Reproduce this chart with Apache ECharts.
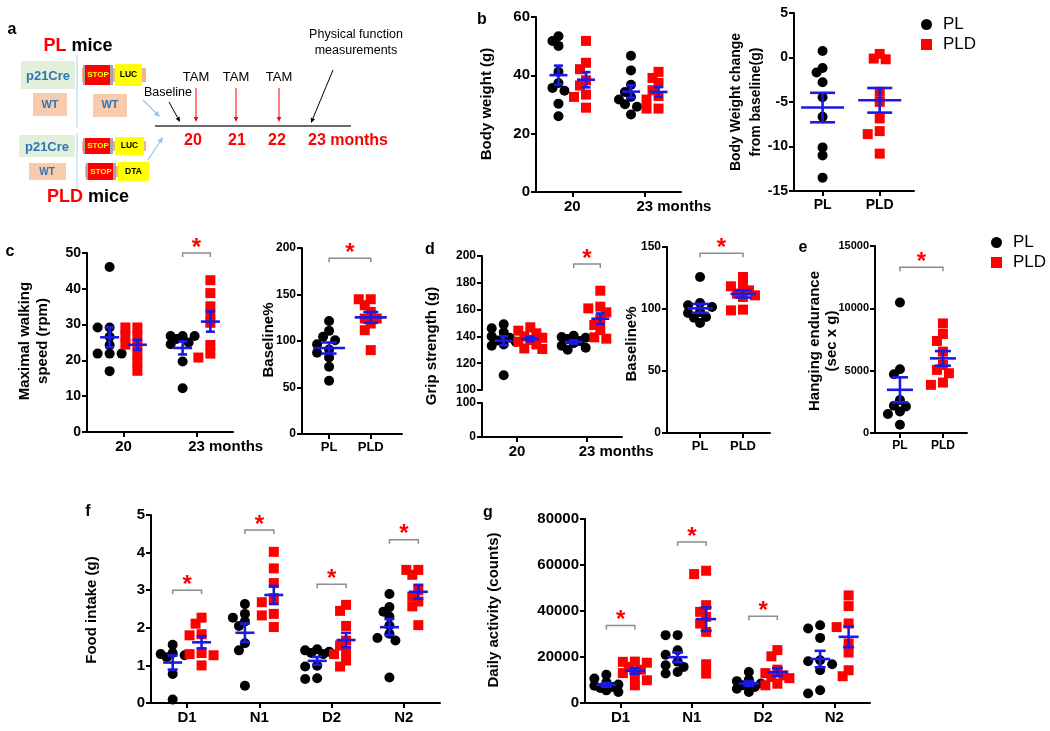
<!DOCTYPE html>
<html><head><meta charset="utf-8">
<script src="https://cdn.jsdelivr.net/npm/echarts@6/dist/echarts.min.js"></script>
<style>html,body{margin:0;padding:0;background:#fff}#chart{width:1050px;height:731px}</style>
</head><body><div id="chart"></div>
<script>
// ================= DATA =================
const seriesNames = ['PL', 'PLD'];
// b: body weight
const bwGroups = ['20', '23 months'];
const bwYTicks = [0, 20, 40, 60];
const bwPL  = [[53.4, 51.8, 50.1, 41.2, 37.4, 35.7, 34.7, 30.3, 26.0], [46.7, 41.7, 36.8, 34.3, 32.6, 31.7, 30.1, 29.2, 26.6]];
const bwPLD = [[51.8, 44.3, 42.1, 38.3, 36.5, 33.4, 32.6, 28.9], [41.2, 39.1, 37.4, 34.9, 32.9, 31.7, 28.6, 28.6]];
// b: body weight change
const bwcGroups = ['PL', 'PLD'];
const bwcYTicks = [-15, -10, -5, 0, 5];
const bwcPL  = [0.74, -1.17, -1.69, -2.78, -4.46, -6.66, -10.1, -11.0, -13.5];
const bwcPLD = [0.40, -0.20, -0.12, -3.86, -4.98, -6.85, -8.27, -8.61, -10.8];
// c: maximal walking speed
const walkGroups = ['20', '23 months'];
const walkYTicks = [0, 10, 20, 30, 40, 50];
const walkPL  = [[46.1, 29.2, 29.2, 26.6, 24.3, 21.9, 21.9, 21.9, 17.0], [26.8, 26.8, 26.8, 26.0, 25.0, 24.5, 19.7, 12.2]];
const walkPLD = [[29.2, 29.2, 26.8, 26.8, 24.4, 24.4, 21.9, 19.5, 17.1], [42.4, 38.8, 35.1, 32.9, 30.5, 24.3, 21.9, 20.8]];
const walkSig = [{ group: 1, y: 50 }];
// c: walking baseline %
const walkBaseGroups = ['PL', 'PLD'];
const walkBaseYTicks = [0, 50, 100, 150, 200];
const walkBasePL  = [121.6, 104.5, 110.9, 100.9, 96.6, 87.3, 90.9, 82.3, 72.3, 57.2];
const walkBasePLD = [144.9, 144.9, 138.5, 131.3, 124.2, 124.2, 118.8, 111.6, 90.2];
const walkBaseSig = [{ y: 189 }];
// d: grip strength (broken axis)
const gripGroups = ['20', '23 months'];
const gripYTicksUpper = [100, 120, 140, 160, 180, 200];
const gripYTicksLower = [0, 100];
const gripPL  = [[149, 146, 143, 140, 139, 137, 136, 134, 133, 111], [140.5, 139.5, 139, 138, 136.5, 135, 133, 131.5, 130]];
const gripPLD = [[146.8, 144.3, 142.3, 140, 139, 137.3, 136, 134, 131, 130.6], [174.1, 162.2, 160.9, 158, 152.7, 148.5, 144.8, 139.3, 138.3]];
const gripSig = [{ group: 1, y: 194 }];
// d: grip baseline %
const gripBaseGroups = ['PL', 'PLD'];
const gripBaseYTicks = [0, 50, 100, 150];
const gripBasePL  = [125.8, 104.8, 103, 101.6, 97.6, 96.8, 93.5, 93.0, 88.7];
const gripBasePLD = [125.8, 119, 118.3, 115, 112.4, 111, 109.7, 99.5, 98.9];
const gripBaseSig = [{ y: 145 }];
// e: hanging endurance
const hangGroups = ['PL', 'PLD'];
const hangYTicks = [0, 5000, 10000, 15000];
const hangPL  = [10470, 5115, 4715, 2650, 2185, 2131, 1732, 1519, 666];
const hangPLD = [8791, 7939, 7380, 6527, 5461, 5062, 4795, 4049, 3863];
const hangSig = [{ y: 13300 }];
// f: food intake
const foodGroups = ['D1', 'N1', 'D2', 'N2'];
const foodYTicks = [0, 1, 2, 3, 4, 5];
const foodPL  = [[1.55, 1.33, 1.30, 1.27, 1.22, 0.77, 0.09], [2.63, 2.37, 2.27, 2.17, 2.05, 1.59, 1.40, 0.46], [1.43, 1.40, 1.36, 1.33, 1.30, 0.99, 0.97, 0.66, 0.64], [2.90, 2.55, 2.43, 2.30, 2.06, 1.84, 1.73, 1.66, 0.68]];
const foodPLD = [[2.27, 2.11, 1.83, 1.80, 1.33, 1.30, 1.27, 1.0], [4.02, 3.58, 3.19, 2.79, 2.68, 2.37, 2.33, 2.02], [2.61, 2.45, 2.05, 1.66, 1.53, 1.37, 1.30, 1.13, 0.97], [3.54, 3.54, 3.41, 3.0, 2.83, 2.70, 2.57, 2.07]];
const foodSig = [{ group: 0, y: 3.0 }, { group: 1, y: 4.6 }, { group: 2, y: 3.16 }, { group: 3, y: 4.34 }];
// g: daily activity
const actGroups = ['D1', 'N1', 'D2', 'N2'];
const actYTicks = [0, 20000, 40000, 60000, 80000];
const actPL  = [[12300, 10600, 9000, 8000, 7500, 7000, 6500, 5500, 4800], [29500, 29500, 22900, 21000, 18000, 16400, 15700, 13500, 12800], [13500, 10200, 9500, 8500, 7700, 7000, 6200, 4800], [33840, 32400, 28300, 18600, 18150, 16850, 14240, 5530, 4100]];
const actPLD = [[18000, 17900, 17500, 15700, 14500, 13000, 11600, 9900, 7700], [57500, 56050, 42540, 39640, 37460, 34550, 30930, 16840, 12780], [23000, 20300, 14500, 13000, 12000, 11300, 10800, 8400, 7700], [46770, 42110, 34580, 33000, 25870, 21950, 14240, 11630]];
const actSig = [{ group: 0, y: 33700 }, { group: 1, y: 70000 }, { group: 2, y: 37700 }];

// ================= STYLE / LAYOUT =================
const FONT = '"Liberation Sans", Arial, Helvetica, sans-serif';
const BLACK = '#000000', RED = '#ff0000', BLUE = '#1a1ae6', GRAY = '#8c8c8c';

const panels = [
  { grid: { left: 536, top: 17, width: 145, height: 175 }, xMin: -0.5, xMax: 1.5, groups: bwGroups, pl: bwPL, pld: bwPLD, split: true, off: 0.19, yTicks: bwYTicks, xFont: 15, yFont: 15, meanW: 18, capW: 9 },
  { grid: { left: 794, top: 13, width: 120, height: 178 }, xMin: -0.5, xMax: 1.6, groups: bwcGroups, pl: [bwcPL], pld: [bwcPLD], split: false, yTicks: bwcYTicks, xFont: 14, yFont: 14, meanW: 43, capW: 25 },
  { grid: { left: 87, top: 253, width: 146, height: 179 }, xMin: -0.5, xMax: 1.5, groups: walkGroups, pl: walkPL, pld: walkPLD, split: true, off: 0.19, yTicks: walkYTicks, xFont: 15, yFont: 14, meanW: 19, capW: 9, sig: walkSig },
  { grid: { left: 302, top: 248, width: 100, height: 186 }, xMin: -0.65, xMax: 1.75, groups: walkBaseGroups, pl: [walkBasePL], pld: [walkBasePLD], split: false, yTicks: walkBaseYTicks, xFont: 13, yFont: 12, meanW: 32, capW: 15, sig: walkBaseSig },
  { grid: { left: 482, top: 256, width: 140, height: 134 }, xMin: -0.5, xMax: 1.5, groups: gripGroups, pl: gripPL, pld: gripPLD, split: true, off: 0.19, yTicks: gripYTicksUpper, xFont: 15, yFont: 12, meanW: 18, capW: 9, sig: gripSig,
    lower: { grid: { left: 482, top: 403, width: 140, height: 34 }, yTicks: gripYTicksLower } },
  { grid: { left: 667, top: 247, width: 103, height: 186 }, xMin: -0.77, xMax: 1.63, groups: gripBaseGroups, pl: [gripBasePL], pld: [gripBasePLD], split: false, yTicks: gripBaseYTicks, xFont: 13, yFont: 12, meanW: 25, capW: 17, sig: gripBaseSig },
  { grid: { left: 875, top: 246, width: 92, height: 187 }, xMin: -0.58, xMax: 1.56, groups: hangGroups, pl: [hangPL], pld: [hangPLD], split: false, yTicks: hangYTicks, xFont: 12, yFont: 11, meanW: 26, capW: 16, sig: hangSig },
  { grid: { left: 151, top: 515, width: 289, height: 188 }, xMin: -0.5, xMax: 3.5, groups: foodGroups, pl: foodPL, pld: foodPLD, split: true, off: 0.2, yTicks: foodYTicks, xFont: 15, yFont: 15, meanW: 19, capW: 10, sig: foodSig },
  { grid: { left: 585, top: 519, width: 285, height: 184 }, xMin: -0.5, xMax: 3.5, groups: actGroups, pl: actPL, pld: actPLD, split: true, off: 0.2, yTicks: actYTicks, xFont: 15, yFont: 15, meanW: 20, capW: 11, sig: actSig }
];

// ================= HELPERS =================
function stats(a) {
  const n = a.length, m = a.reduce((s, v) => s + v, 0) / n;
  const sd = Math.sqrt(a.reduce((s, v) => s + (v - m) * (v - m), 0) / (n - 1));
  return { mean: m, sem: sd / Math.sqrt(n) };
}
// simple beeswarm layout (pixel based) so that dots do not sit on top of each other
function swarm(values, cx, pxu, pyu, yMin) {
  const step = 6, minD = 7.5;
  const order = values.map((v, i) => i).sort((a, b) => values[b] - values[a]);
  const placed = [], xs = new Array(values.length);
  for (const i of order) {
    const y = (values[i] - yMin) * pyu;
    let best = 0, bestD = -1;
    for (const k of [0, -1, 1, -2, 2]) {
      const xo = k * step;
      let d = Infinity;
      for (const p of placed) d = Math.min(d, Math.hypot(p[0] - xo, p[1] - y));
      if (d >= minD) { best = xo; bestD = d; break; }
      if (d > bestD) { bestD = d; best = xo; }
    }
    placed.push([best, y]);
    xs[i] = cx + best / pxu;
  }
  return xs;
}

const grids = [], xAxes = [], yAxes = [], series = [];

// base x axis: line, ticks and the single-word labels
function makeX(gi, p, show) {
  const idx = p.groups.map((_, i) => i);
  const plain = idx.filter(i => p.groups[i].indexOf(' ') < 0);
  return {
    type: 'value', gridIndex: gi, min: p.xMin, max: p.xMax, show: show, position: 'bottom',
    axisLine: { show: true, onZero: false, lineStyle: { color: BLACK, width: 2 } },
    axisTick: { show: true, customValues: idx, length: 5, lineStyle: { color: BLACK, width: 2 } },
    axisLabel: { show: true, customValues: plain, showMinLabel: true, showMaxLabel: true,
      formatter: v => p.groups[Math.round(v)] || '', color: BLACK, fontSize: p.xFont, fontWeight: 'bold', fontFamily: FONT, margin: 7 },
    splitLine: { show: false }
  };
}
// companion x axis holding only multi-word labels ("23 months"), with the number centred on its tick
function makeXWords(gi, p) {
  const words = p.groups.map((_, i) => i).filter(i => p.groups[i].indexOf(' ') > 0);
  if (!words.length) return null;
  return {
    type: 'value', gridIndex: gi, min: p.xMin, max: p.xMax, position: 'bottom', offset: 0,
    axisLine: { show: false, onZero: false }, axisTick: { show: false },
    axisLabel: { show: true, customValues: words, showMinLabel: true, showMaxLabel: true,
      formatter: function (v) { const s = p.groups[Math.round(v)] || ''; const sp = s.indexOf(' '); return '{h|' + s.slice(sp) + '}' + s; },
      color: BLACK, fontSize: p.xFont, fontWeight: 'bold', fontFamily: FONT, margin: 7,
      rich: { h: { color: 'rgba(0,0,0,0)', fontSize: p.xFont, fontWeight: 'bold', fontFamily: FONT } } },
    splitLine: { show: false }
  };
}
function makeY(gi, ticks, size) {
  return {
    type: 'value', gridIndex: gi, min: ticks[0], max: ticks[ticks.length - 1], interval: ticks[1] - ticks[0],
    axisLine: { show: true, onZero: false, lineStyle: { color: BLACK, width: 2 } },
    axisTick: { show: true, length: 5, lineStyle: { color: BLACK, width: 2 } },
    axisLabel: { color: BLACK, fontSize: size, fontWeight: 'bold', fontFamily: FONT, margin: 6, showMinLabel: true, showMaxLabel: true, formatter: v => String(v) },
    splitLine: { show: false }
  };
}

function buildPanel(p) {
  const gi = grids.length;
  grids.push(Object.assign({}, p.grid));
  const xi = xAxes.length, yi = yAxes.length;
  xAxes.push(makeX(gi, p, !p.lower));
  yAxes.push(makeY(gi, p.yTicks, p.yFont));
  if (p.lower) {
    const li = grids.length;
    grids.push(Object.assign({}, p.lower.grid));
    xAxes.push(makeX(li, p, true));
    yAxes.push(makeY(li, p.lower.yTicks, p.yFont));
    const w = makeXWords(li, p); if (w) xAxes.push(w);
  } else {
    const w = makeXWords(gi, p); if (w) xAxes.push(w);
  }
  const yMin = p.yTicks[0], yMax = p.yTicks[p.yTicks.length - 1];
  const pxu = p.grid.width / (p.xMax - p.xMin), pyu = p.grid.height / (yMax - yMin);
  const dataPL = [], dataPLD = [], bars = [];
  const sets = [[p.pl, dataPL, -1], [p.pld, dataPLD, 1]];
  sets.forEach(([arr, out, sgn], si) => {
    arr.forEach((vals, g) => {
      const cx = p.split ? g + sgn * p.off : si;
      const xs = swarm(vals, cx, pxu, pyu, yMin);
      vals.forEach((v, i) => out.push([xs[i], v]));
      const st = stats(vals);
      bars.push([cx, st.mean, st.sem]);
    });
  });
  series.push({ name: 'PL', type: 'scatter', xAxisIndex: xi, yAxisIndex: yi, symbol: 'circle', symbolSize: 10, itemStyle: { color: BLACK, opacity: 1 }, data: dataPL, z: 2, silent: true });
  series.push({ name: 'PLD', type: 'scatter', xAxisIndex: xi, yAxisIndex: yi, symbol: 'rect', symbolSize: 10, itemStyle: { color: RED, opacity: 1 }, data: dataPLD, z: 2, silent: true });
  const mw = p.meanW, cw = p.capW;
  series.push({
    type: 'custom', xAxisIndex: xi, yAxisIndex: yi, data: bars, z: 3, clip: false, silent: true,
    renderItem: function (params, api) {
      const x = api.value(0), m = api.value(1), s = api.value(2);
      const c = api.coord([x, m]), t = api.coord([x, m + s]), b = api.coord([x, m - s]);
      const st = { stroke: BLUE, lineWidth: 2.6 };
      return { type: 'group', children: [
        { type: 'line', shape: { x1: c[0] - mw / 2, y1: c[1], x2: c[0] + mw / 2, y2: c[1] }, style: st },
        { type: 'line', shape: { x1: c[0], y1: t[1], x2: c[0], y2: b[1] }, style: st },
        { type: 'line', shape: { x1: c[0] - cw / 2, y1: t[1], x2: c[0] + cw / 2, y2: t[1] }, style: st },
        { type: 'line', shape: { x1: c[0] - cw / 2, y1: b[1], x2: c[0] + cw / 2, y2: b[1] }, style: st }
      ] };
    }
  });
  if (p.sig) {
    const sigData = p.sig.map(s => p.split ? [s.group - p.off, s.group + p.off, s.y] : [0, 1, s.y]);
    series.push({
      type: 'custom', xAxisIndex: xi, yAxisIndex: yi, data: sigData, z: 4, clip: false, silent: true,
      encode: { x: [0, 1], y: 2 },
      renderItem: function (params, api) {
        const a = api.coord([api.value(0), api.value(2)]), b = api.coord([api.value(1), api.value(2)]);
        return { type: 'group', children: [
          { type: 'polyline', shape: { points: [[a[0], a[1] + 4], [a[0], a[1]], [b[0], b[1]], [b[0], b[1] + 4]] }, style: { stroke: GRAY, lineWidth: 1.5, fill: null } },
          { type: 'text', x: (a[0] + b[0]) / 2, y: a[1] - 5, style: { text: '*', fill: RED, font: 'bold 24px ' + FONT, align: 'center', verticalAlign: 'middle', textAlign: 'center', textVerticalAlign: 'middle' } }
        ] };
      }
    });
  }
}
panels.forEach(buildPanel);

// ================= GRAPHICS (schematic a, titles, panel letters) =================
function txt(text, x, y, size, opt) {
  opt = opt || {};
  return { type: 'text', x: x, y: y, rotation: opt.rot || 0, z: 10, silent: true,
    style: { text: text, fill: opt.color || BLACK, font: (opt.bold === false ? '' : 'bold ') + size + 'px ' + FONT,
      align: opt.align || 'center', verticalAlign: 'middle', textAlign: opt.align || 'center', textVerticalAlign: 'middle',
      lineHeight: opt.lh || undefined, rich: opt.rich } };
}
function rect(x, y, w, h, fill) {
  return { type: 'rect', shape: { x: x, y: y, width: w, height: h }, style: { fill: fill }, silent: true, z: 5 };
}
function arrow(x1, y1, x2, y2, color, w, hs) {
  const ang = Math.atan2(y2 - y1, x2 - x1);
  const bx = x2 - hs * Math.cos(ang), by = y2 - hs * Math.sin(ang);
  const px = -Math.sin(ang) * hs * 0.45, py = Math.cos(ang) * hs * 0.45;
  return [
    { type: 'line', shape: { x1: x1, y1: y1, x2: bx, y2: by }, style: { stroke: color, lineWidth: w }, silent: true, z: 6 },
    { type: 'polygon', shape: { points: [[x2, y2], [bx + px, by + py], [bx - px, by - py]] }, style: { fill: color }, silent: true, z: 6 }
  ];
}
const GREEN_BG = '#e2efda', PEACH = '#f8cbad', TXT_BLUE = '#2e75b6', YELLOW = '#ffff00', LBLUE = '#9dc3e6';
function construct(x, y, h, label2, w2) {
  return [
    rect(x - 3, y + 3, 64, h - 6, '#f4b183'),
    rect(x - 2, y, 3, h, '#a6a6a6'),
    rect(x, y, 26, h, '#ff0000'),
    rect(x + 25, y, 3, h, '#a6a6a6'),
    rect(x + 30, y - 1, w2, h + 2, YELLOW),
    txt('STOP', x + 13, y + h / 2, 8, { color: YELLOW }),
    txt(label2, x + 30 + w2 / 2, y + h / 2, 8.5)
  ];
}
const richPL = { r: { fill: RED, color: RED, font: 'bold 18px ' + FONT, fontSize: 18, fontWeight: 'bold' }, k: { fill: BLACK, color: BLACK, font: 'bold 18px ' + FONT, fontSize: 18, fontWeight: 'bold' } };
let graphics = [
  // schematic a
  txt('a', 12, 30, 16),
  txt('{r|PL}{k| mice}', 78, 46, 18, { rich: richPL }),
  rect(21, 61, 54, 28, GREEN_BG), txt('p21Cre', 48, 76, 13, { color: TXT_BLUE }),
  rect(33, 93, 34, 23, PEACH), txt('WT', 50, 105, 11, { color: TXT_BLUE }),
  rect(93, 94, 34, 23, PEACH), txt('WT', 110, 105, 11, { color: TXT_BLUE }),
  rect(19, 135, 56, 22, GREEN_BG), txt('p21Cre', 47, 147, 13, { color: TXT_BLUE }),
  rect(29, 163, 37, 17, PEACH), txt('WT', 47, 172, 10, { color: TXT_BLUE }),
  { type: 'line', shape: { x1: 77, y1: 55, x2: 77, y2: 128 }, style: { stroke: '#bdd7ee', lineWidth: 1.2 }, silent: true },
  { type: 'line', shape: { x1: 77, y1: 133, x2: 77, y2: 192 }, style: { stroke: '#bdd7ee', lineWidth: 1.2 }, silent: true },
  ...construct(85, 65, 20, 'LUC', 27),
  ...construct(85, 138, 16, 'LUC', 29),
  ...construct(88, 163, 17, 'DTA', 31),
  txt('{r|PLD}{k| mice}', 88, 197, 18, { rich: richPL }),
  ...arrow(143, 100, 160, 117, LBLUE, 1.2, 6),
  ...arrow(148, 160, 163, 137, LBLUE, 1.2, 6),
  { type: 'line', shape: { x1: 155, y1: 126, x2: 351, y2: 126 }, style: { stroke: '#6b6b6b', lineWidth: 2 }, silent: true },
  txt('Baseline', 168, 93, 12.5, { bold: false }),
  ...arrow(169, 102, 180, 122, BLACK, 1, 5),
  txt('TAM', 196, 77, 13, { bold: false }), txt('TAM', 236, 77, 13, { bold: false }), txt('TAM', 279, 77, 13, { bold: false }),
  ...arrow(196, 88, 196, 122, RED, 1, 5), ...arrow(236, 88, 236, 122, RED, 1, 5), ...arrow(279, 88, 279, 122, RED, 1, 5),
  txt('20', 193, 141, 16, { color: RED }), txt('21', 237, 141, 16, { color: RED }), txt('22', 277, 141, 16, { color: RED }),
  txt('23 months', 308, 141, 16, { color: RED, align: 'left' }),
  txt('Physical function\nmeasurements', 356, 43, 12.5, { bold: false, lh: 16 }),
  ...arrow(333, 70, 311, 123, BLACK, 1, 5),
  // panel letters
  txt('b', 482, 20, 16), txt('c', 10, 252, 16), txt('d', 430, 250, 16), txt('e', 803, 248, 16), txt('f', 88, 512, 16), txt('g', 488, 513, 16),
  // axis titles
  txt('Body weight (g)', 487, 104, 15, { rot: Math.PI / 2 }),
  txt('Body Weight change\nfrom baseline(g)', 746, 102, 14, { rot: Math.PI / 2, lh: 20 }),
  txt('Maximal walking\nspeed (rpm)', 34, 341, 15, { rot: Math.PI / 2, lh: 18 }),
  txt('Baseline%', 269, 340, 15, { rot: Math.PI / 2 }),
  txt('Grip strength (g)', 432, 346, 15, { rot: Math.PI / 2 }),
  txt('Baseline%', 632, 344, 15, { rot: Math.PI / 2 }),
  txt('Hanging endurance\n(sec x g)', 823, 341, 15, { rot: Math.PI / 2, lh: 17 }),
  txt('Food intake (g)', 92, 610, 15, { rot: Math.PI / 2 }),
  txt('Daily activity (counts)', 494, 610, 15, { rot: Math.PI / 2 })
];

const legendBase = { data: seriesNames, orient: 'vertical', itemWidth: 11, itemHeight: 11, itemGap: 3, selectedMode: false,
  textStyle: { fontSize: 17, fontFamily: FONT, color: BLACK, padding: [0, 0, 0, 6] } };

const chart = echarts.init(document.getElementById('chart'), null, { renderer: 'canvas' });
chart.setOption({
  backgroundColor: '#ffffff',
  animation: false,
  textStyle: { fontFamily: FONT },
  legend: [Object.assign({ left: 916, top: 11 }, legendBase), Object.assign({ left: 986, top: 229 }, legendBase)],
  grid: grids, xAxis: xAxes, yAxis: yAxes, series: series,
  graphic: { elements: graphics }
});
</script></body></html>
